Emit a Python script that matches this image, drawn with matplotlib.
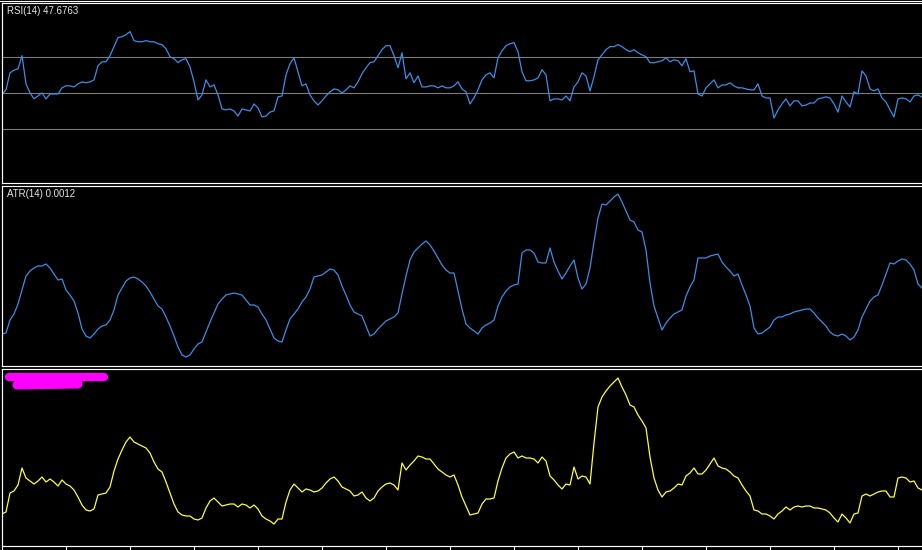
import numpy as np
import matplotlib
matplotlib.use("Agg")
import matplotlib.pyplot as plt
from matplotlib.lines import Line2D

# ---------------- data (one value per bar) ----------------
rsi = [49.2, 51.7, 61.1, 62.6, 63.3, 70.6, 55.0, 50.0, 46.7, 48.3,
       50.0, 46.7, 49.4, 49.4, 49.4, 52.8, 53.9, 53.9, 53.3, 55.0,
       56.1, 55.6, 56.1, 57.2, 65.0, 67.2, 67.2, 70.6, 75.6, 80.6,
       81.1, 82.2, 83.9, 78.9, 78.3, 78.3, 78.9, 78.3, 78.3, 77.2,
       76.7, 74.4, 70.0, 68.9, 66.7, 68.3, 68.9, 64.4, 56.1, 46.1,
       48.9, 57.2, 53.3, 54.4, 48.9, 41.1, 40.6, 41.1, 40.0, 37.2,
       41.1, 40.6, 40.0, 43.9, 41.7, 36.7, 37.2, 39.4, 40.0, 47.8,
       48.3, 60.0, 66.1, 69.4, 61.7, 53.9, 55.0, 48.9, 45.6, 43.3,
       45.6, 48.3, 50.6, 52.2, 51.7, 50.0, 51.7, 53.9, 52.8, 56.1,
       60.6, 63.9, 66.7, 67.2, 70.6, 73.9, 76.1, 76.1, 70.6, 63.9,
       72.2, 57.8, 61.1, 55.6, 59.4, 53.3, 53.3, 53.9, 53.9, 52.8,
       53.9, 52.8, 52.8, 53.9, 56.1, 52.2, 50.6, 43.9, 47.2, 51.7,
       57.2, 60.0, 61.1, 58.3, 69.4, 73.3, 76.1, 77.2, 77.8, 72.8,
       61.7, 56.7, 56.7, 57.2, 58.3, 62.8, 60.0, 45.6, 46.7, 46.7,
       46.1, 48.3, 45.6, 53.3, 56.1, 61.1, 59.4, 51.1, 58.9, 68.3,
       71.1, 73.9, 75.6, 75.6, 76.7, 75.6, 73.9, 72.8, 73.9, 72.2,
       71.1, 70.0, 66.7, 66.7, 67.2, 67.8, 69.4, 67.2, 68.3, 67.8,
       65.0, 68.9, 61.7, 62.2, 49.4, 48.3, 52.8, 55.0, 57.2, 52.8,
       54.4, 54.4, 55.6, 53.9, 52.8, 52.8, 52.2, 51.7, 51.7, 55.0,
       48.3, 47.2, 47.2, 36.1, 40.6, 43.9, 46.7, 42.8, 45.6, 45.6,
       42.8, 43.3, 44.4, 44.4, 46.7, 47.2, 47.8, 47.2, 43.9, 39.4,
       48.3, 45.0, 42.2, 50.6, 49.4, 62.2, 59.4, 52.2, 51.1, 52.2,
       47.2, 45.0, 40.6, 36.7, 46.7, 47.2, 46.7, 45.0, 48.3, 48.9,
       47.6763]

# ATR in points (1 point = 0.00001)
atr_points = [74, 75, 88, 94, 104, 118, 132, 137, 140, 142,
              142, 144, 140, 134, 128, 129, 118, 113, 107, 95,
              79, 72, 70, 74, 79, 82, 83, 88, 98, 113,
              120, 127, 130, 131, 129, 126, 122, 116, 109, 102,
              99, 91, 82, 72, 61, 53, 51, 53, 59, 64,
              66, 76, 86, 95, 104, 109, 113, 114, 115, 114,
              113, 108, 103, 103, 101, 94, 88, 79, 70, 67,
              66, 78, 89, 94, 99, 106, 111, 119, 131, 132,
              133, 136, 139, 138, 133, 122, 113, 103, 96, 94,
              92, 82, 72, 74, 79, 83, 87, 89, 91, 95,
              114, 132, 148, 156, 160, 164, 167, 163, 157, 150,
              143, 138, 135, 135, 117, 99, 84, 80, 77, 74,
              80, 83, 85, 88, 102, 111, 117, 121, 123, 124,
              155, 158, 158, 155, 146, 145, 145, 160, 146, 137,
              129, 135, 142, 148, 130, 119, 124, 140, 166, 190,
              204, 203, 207, 211, 214, 206, 197, 188, 186, 178,
              176, 158, 125, 102, 90, 78, 85, 90, 94, 96,
              98, 112, 121, 128, 150, 150, 150, 152, 153, 154,
              146, 141, 137, 132, 134, 123, 113, 102, 80, 74,
              75, 78, 81, 88, 91, 91, 93, 94, 96, 97,
              98, 99, 99, 95, 90, 86, 82, 76, 73, 72,
              74, 72, 68, 71, 78, 91, 99, 107, 111, 113,
              123, 134, 145, 144, 147, 149, 148, 144, 138, 124,
              120]

# third (custom) indicator, arbitrary units
vol = [46, 48, 67, 69, 75, 92, 82, 79, 76, 79,
       83, 78, 81, 78, 74, 80, 76, 74, 70, 63,
       55, 50, 49, 51, 65, 66, 67, 73, 89, 101,
       110, 118, 123, 118, 116, 114, 112, 107, 98, 91,
       88, 78, 67, 56, 48, 45, 44, 44, 41, 40,
       42, 52, 59, 62, 58, 54, 55, 56, 56, 53,
       56, 55, 52, 55, 51, 44, 41, 39, 36, 41,
       41, 58, 70, 76, 72, 68, 71, 70, 68, 69,
       72, 77, 81, 83, 79, 73, 71, 69, 64, 65,
       68, 62, 59, 62, 69, 73, 76, 77, 75, 70,
       97, 90, 95, 99, 104, 103, 101, 101, 96, 91,
       88, 85, 83, 85, 75, 63, 54, 45, 46, 47,
       56, 61, 61, 62, 79, 92, 102, 106, 108, 102,
       104, 102, 102, 101, 97, 103, 99, 84, 80, 75,
       71, 76, 75, 93, 81, 84, 83, 76, 117, 153,
       163, 169, 174, 178, 182, 173, 165, 155, 153, 145,
       139, 132, 103, 82, 70, 63, 68, 69, 72, 76,
       75, 84, 87, 92, 86, 86, 90, 96, 102, 94,
       92, 91, 88, 84, 82, 75, 69, 64, 50, 49,
       46, 46, 44, 41, 46, 49, 53, 50, 53, 54,
       53, 54, 54, 52, 52, 51, 50, 47, 42, 38,
       46, 42, 37, 46, 47, 64, 66, 64, 66, 68,
       69, 69, 63, 63, 82, 83, 82, 78, 79, 72,
       70]

rsi_levels = [30, 50, 70]
rsi_period = 14
atr_period = 14
time_tick_every = 16

# ---------------- layout ----------------
W, H = 922, 550
BAR_PX = 4.0      # pixel spacing of bars
X0_PX = 2.0       # pixel position of first bar
LEFT_PX, RIGHT_PX = 1.5, 940.0

fig = plt.figure(figsize=(W / 100, H / 100), dpi=100, facecolor="black")


def add_panel(top_px, bottom_px):
    ax = fig.add_axes([LEFT_PX / W, 1 - bottom_px / H,
                       (RIGHT_PX - LEFT_PX) / W, (bottom_px - top_px) / H])
    ax.set_facecolor("black")
    for s in ax.spines.values():
        s.set_color("white")
        s.set_linewidth(0.85)
    ax.set_xlim((LEFT_PX - X0_PX) / BAR_PX, (RIGHT_PX - X0_PX) / BAR_PX)
    ax.set_xticks([])
    ax.set_yticks([])
    return ax


n = len(rsi)
x = np.arange(n)
blue = "#3a8ee8"
txt_font = dict(color="#e6e6e6", fontsize=7.0, family=["Liberation Sans", "DejaVu Sans"])

# Panel 1: RSI
ax1 = add_panel(2.5, 183.3)
ax1.set_ylim(0, 100)
for lv in rsi_levels:
    ax1.axhline(lv, color="#7c7c7c", lw=0.8)
ax1.plot(x, rsi, color=blue, lw=0.9)
ax1.text(5.5 / (RIGHT_PX - LEFT_PX), 1 - 9.0 / 180.8,
         f"RSI({rsi_period}) {rsi[-1]:.4f}", transform=ax1.transAxes,
         va="center", ha="left", **txt_font)

# Panel 2: ATR
atr = np.array(atr_points) * 1e-5
ax2 = add_panel(185.7, 365.7)
ax2.set_ylim(42.3e-5, 222.3e-5)
ax2.plot(x, atr, color=blue, lw=0.9)
ax2.text(5.5 / (RIGHT_PX - LEFT_PX), 1 - 8.5 / 180.0,
         f"ATR({atr_period}) {atr[-1]:.4f}", transform=ax2.transAxes,
         va="center", ha="left", **txt_font)

# Panel 3: custom indicator (yellow)
ax3 = add_panel(368.7, 546.0)
ax3.set_ylim(14, 191.3)
ax3.plot(x, vol, color="#ffff33", lw=0.9)
ax3.set_xticks(np.arange(0, n, time_tick_every))
ax3.tick_params(axis="x", direction="out", length=3.2, width=0.8,
                color="white", labelbottom=False)

# magenta redaction scribble over the indicator name
fig.add_artist(Line2D([9 / W, 104 / W], [1 - 377 / H, 1 - 377 / H],
                      transform=fig.transFigure, color="#ff00ff", lw=6.0,
                      solid_capstyle="round"))
fig.add_artist(Line2D([17 / W, 78 / W], [1 - 385 / H, 1 - 384 / H],
                      transform=fig.transFigure, color="#ff00ff", lw=6.5,
                      solid_capstyle="round"))

# outer frame line at the very top
fig.add_artist(Line2D([0, 1], [1 - 0.6 / H, 1 - 0.6 / H],
                      transform=fig.transFigure, color="white", lw=0.8))

fig.savefig("out.png", dpi=100, facecolor="black")
